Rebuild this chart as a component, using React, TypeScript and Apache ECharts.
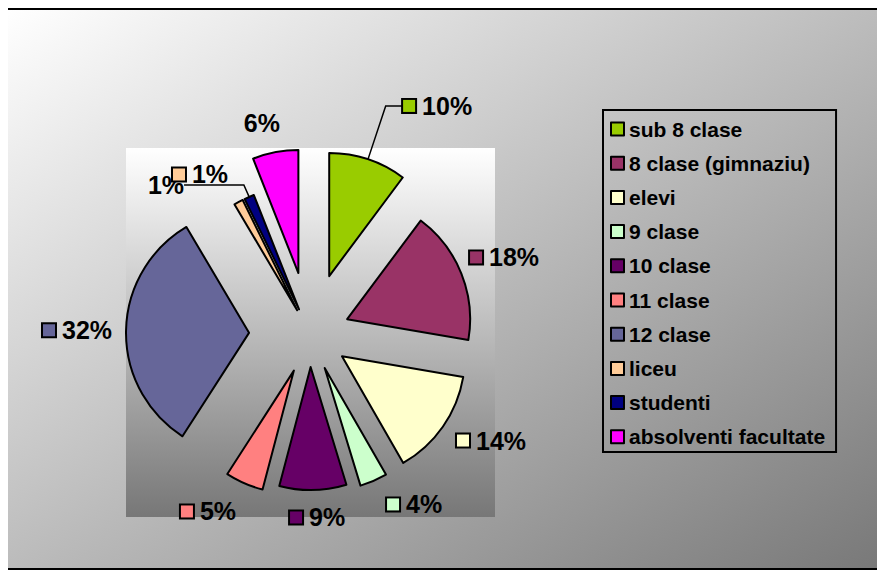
import React, { useEffect, useRef } from 'react';
import * as echarts from 'echarts';

const categories = [
  'sub 8 clase',
  '8 clase (gimnaziu)',
  'elevi',
  '9 clase',
  '10 clase',
  '11 clase',
  '12 clase',
  'liceu',
  'studenti',
  'absolventi facultate',
];
const values = [10.2, 17.5, 14.0, 3.6, 8.8, 5.0, 32.4, 1.2, 1.3, 6.0];
const colors = ['#99CC00', '#993366', '#FFFFCC', '#CCFFCC', '#660066', '#FF8080', '#666699', '#FFCC99', '#000080', '#FF00FF'];

// layout / style settings
const PIE_CENTER = [310, 334];
const PIE_RADIUS = 123;
const explode = [61, 40, 39, 37, 33, 40, 61, 27, 27, 62];
const labelPlacement = [
  { length: 56.3, length2: 17.4, line: true, key: true },
  { length: 43.4, length2: -31.6, line: false, key: true },
  { length: 24.1, length2: -5.6, line: false, key: true },
  { length: 25.7, length2: 3.3, line: false, key: true },
  { length: 27.5, length2: -23.4, line: false, key: true },
  { length: 30.9, length2: -4.2, line: false, key: true },
  { length: 14, length2: 0, line: false, key: true },
  { length: 31.4, length2: -4.5, line: false, key: true },
  { length: 13, length2: 59.8, line: true, key: false },
  { length: 29.8, length2: -10.2, line: false, key: false },
];

const FONT = "'Liberation Sans', Arial, sans-serif";

function buildSeries() {
  const total = values.reduce((a, b) => a + b, 0);
  let acc = 0;
  return values.map((v, i) => {
    const mid = ((acc + v / 2) / total) * Math.PI * 2;
    acc += v;
    const cx = PIE_CENTER[0] + explode[i] * Math.sin(mid);
    const cy = PIE_CENTER[1] - explode[i] * Math.cos(mid);
    const lp = labelPlacement[i];
    const data = values.map((val, j) => {
      if (j === i) {
        return {
          name: categories[j],
          value: val,
          itemStyle: { color: colors[j], borderColor: '#000', borderWidth: 2 },
          label: {
            show: true,
            position: 'outside',
            distanceToLabelLine: 0,
            formatter: (p: any) =>
              lp.key
                ? `{sq|}{t|${Math.round(p.percent)}%}`
                : `{t0|${Math.round(p.percent)}%}`,
          },
          labelLine: {
            show: lp.line,
            length: lp.length,
            length2: lp.length2,
            smooth: false,
            lineStyle: { color: '#000', width: 1.5 },
          },
        };
      }
      return {
        name: `__h_${i}_${j}`,
        value: val,
        itemStyle: { color: 'rgba(0,0,0,0)', borderWidth: 0 },
        label: { show: false },
        labelLine: { show: false },
      };
    });
    return {
      type: 'pie',
      name: `slice_${i}`,
      z: i === 7 ? 4 : 2,
      center: [cx, cy],
      radius: PIE_RADIUS,
      startAngle: 90,
      clockwise: true,
      avoidLabelOverlap: false,
      labelLayout: { hideOverlap: false },
      silent: true,
      legendHoverLink: false,
      emphasis: { disabled: true },
      label: {
        color: '#000',
        rich: {
          sq: {
            width: 12,
            height: 12,
            backgroundColor: colors[i],
            borderColor: '#000',
            borderWidth: 2,
            verticalAlign: 'middle',
          },
          t: {
            fontSize: 25,
            fontWeight: 'bold',
            fontFamily: FONT,
            color: '#000',
            padding: [0, 0, 0, 7],
            verticalAlign: 'middle',
          },
          t0: {
            fontSize: 25,
            fontWeight: 'bold',
            fontFamily: FONT,
            color: '#000',
            verticalAlign: 'middle',
          },
        },
      },
      data,
    };
  });
}

export default function App() {
  const ref = useRef<HTMLDivElement>(null);
  useEffect(() => {
    if (!ref.current) return;
    const chart = echarts.init(ref.current, undefined, { renderer: 'svg' });
    chart.setOption({
      animation: false,
      backgroundColor: '#ffffff',
      tooltip: { show: false },
      graphic: [
        {
          type: 'rect',
          z: -10,
          silent: true,
          shape: { x: 7, y: 9, width: 880, height: 560 },
          style: {
            fill: new echarts.graphic.LinearGradient(0, 0, 1, 1, [
              { offset: 0, color: '#ffffff' },
              { offset: 1, color: '#787878' },
            ]),
            stroke: '#000',
            lineWidth: 2,
          },
        },
        {
          type: 'rect',
          z: -9,
          silent: true,
          shape: { x: 126, y: 148, width: 369, height: 369 },
          style: {
            fill: new echarts.graphic.LinearGradient(0, 0, 0, 1, [
              { offset: 0, color: '#ffffff' },
              { offset: 1, color: '#777777' },
            ]),
          },
        },
      ],
      legend: {
        orient: 'vertical',
        left: 603,
        top: 110,
        data: categories,
        selectedMode: false,
        icon: 'rect',
        itemWidth: 13,
        itemHeight: 13,
        itemGap: 13.2,
        padding: [8.5, 11, 4.7, 7],
        borderColor: '#000',
        borderWidth: 2,
        backgroundColor: 'transparent',
        itemStyle: { borderColor: '#000', borderWidth: 2 },
        textStyle: {
          fontSize: 21,
          fontWeight: 'bold',
          fontFamily: FONT,
          color: '#000',
          lineHeight: 21,
        },
      },
      series: buildSeries(),
    });
    return () => chart.dispose();
  }, []);
  return (
    <div
      ref={ref}
      style={{ position: 'fixed', left: -8, top: -8, width: 885, height: 571 }}
    />
  );
}
